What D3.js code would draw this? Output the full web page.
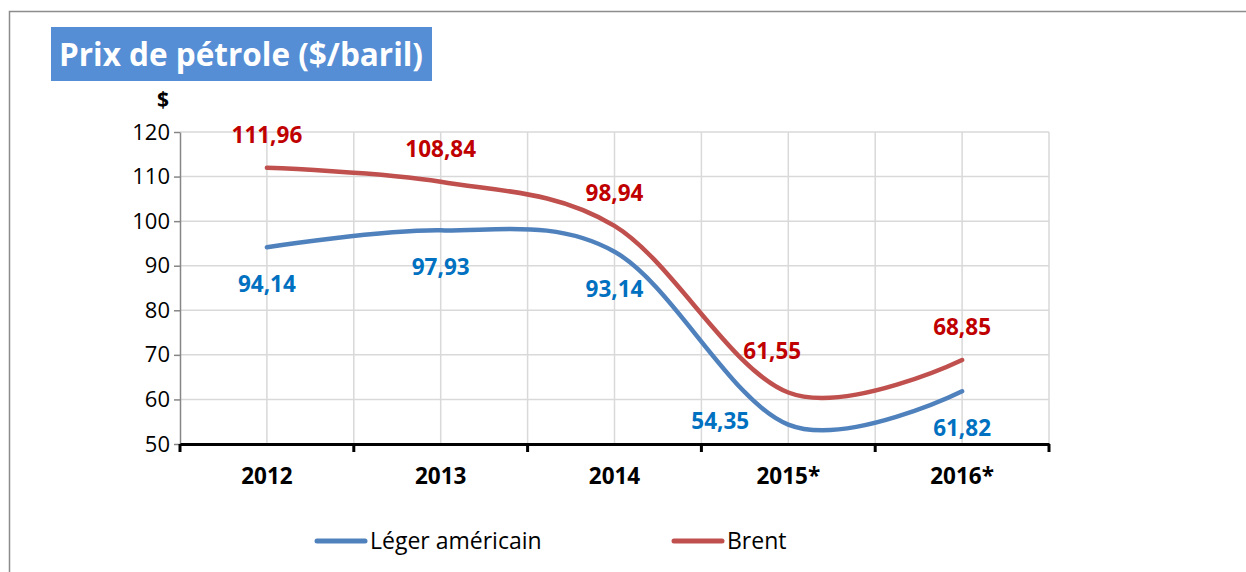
<!DOCTYPE html>
<html>
<head>
<meta charset="utf-8">
<script src="https://cdn.jsdelivr.net/npm/d3@7"></script>
<style>
  body { margin: 0; background: #fff; }
  svg { display: block; font-family: "Open Sans", Lato, sans-serif; }
</style>
</head>
<body>
<script>
const W = 1246, H = 572
const years = ["2012", "2013", "2014", "2015*", "2016*"]
const leger = [94.14, 97.93, 93.14, 54.35, 61.82]
const brent = [111.96, 108.84, 98.94, 61.55, 68.85]
const yTicks = [50, 60, 70, 80, 90, 100, 110, 120]
const seriesNames = ["Léger américain", "Brent"]

const plot = { left: 180, right: 1049, top: 132, bottom: 444 }
const FONT = "'Open Sans', sans-serif"

var svg = d3.select("body").append("svg")
    .attr("width", W)
    .attr("height", H)

// outer frame
svg.append("rect")
    .attr("x", 9.5).attr("y", 11.5)
    .attr("width", 1300).attr("height", 700)
    .attr("fill", "none").attr("stroke", "#8c8c8c").attr("stroke-width", 1.5)

// title box
svg.append("rect")
    .attr("x", 51).attr("y", 27).attr("width", 381).attr("height", 54)
    .attr("fill", "#558ed5")
svg.append("text")
    .attr("x", 241).attr("y", 66)
    .attr("text-anchor", "middle")
    .attr("fill", "#fff").attr("font-weight", "bold").attr("font-size", 31.5)
    .text("Prix de pétrole ($/baril)")

var x = d3.scaleBand().domain(years).range([plot.left, plot.right])
var y = d3.scaleLinear().domain([50, 120]).range([plot.bottom, plot.top])
var cx = function(d) { return x(d) + x.bandwidth() / 2 }

// gridlines
var grid = svg.append("g").attr("stroke", "#d9d9d9").attr("stroke-width", 1.5)
grid.selectAll(".h").data(yTicks.slice(1)).enter().append("line")
    .attr("x1", plot.left).attr("x2", plot.right)
    .attr("y1", d => y(d)).attr("y2", d => y(d))
var vx = []
years.forEach(function(d) { vx.push(cx(d)); vx.push(x(d) + x.bandwidth()) })
grid.selectAll(".v").data(vx).enter().append("line")
    .attr("x1", d => d).attr("x2", d => d)
    .attr("y1", plot.top).attr("y2", plot.bottom)

// y axis
var yAxis = svg.append("g")
    .attr("transform", "translate(" + plot.left + ",0)")
    .call(d3.axisLeft(y).tickValues(yTicks).tickSize(6).tickSizeOuter(0).tickPadding(4))
yAxis.select(".domain").attr("stroke", "#868686").attr("stroke-width", 1.5)
yAxis.selectAll(".tick line").attr("stroke", "#868686").attr("stroke-width", 1.5)
yAxis.selectAll("text").attr("font-size", 22).attr("fill", "#000")
    .attr("font-family", FONT)

svg.append("text")
    .attr("x", 163).attr("y", 107)
    .attr("text-anchor", "middle").attr("font-weight", "bold").attr("font-size", 21)
    .text("$")

// x axis
var xAxis = svg.append("g")
    .attr("transform", "translate(0," + plot.bottom + ")")
    .call(d3.axisBottom(x).tickSize(0).tickPadding(24).tickSizeOuter(0))
xAxis.select(".domain").attr("stroke", "#000").attr("stroke-width", 3)
xAxis.selectAll("text").attr("font-size", 22.5).attr("font-weight", "bold").attr("fill", "#000")
    .attr("font-family", FONT)
var bounds = [plot.left].concat(years.map(d => x(d) + x.bandwidth()))
svg.append("g").selectAll("line").data(bounds).enter().append("line")
    .attr("x1", d => d).attr("x2", d => d)
    .attr("y1", plot.bottom).attr("y2", plot.bottom + 8)
    .attr("stroke", "#000").attr("stroke-width", 3)

// lines
var line = d3.line()
    .x((d, i) => cx(years[i]))
    .y(d => y(d))
    .curve(d3.curveCardinal.tension(0))

var series = [
  { name: seriesNames[0], values: leger, color: "#4f81bd", label: "#0070c0", above: false },
  { name: seriesNames[1], values: brent, color: "#c0504d", label: "#c00000", above: true }
]

series.forEach(function(s) {
  svg.append("path")
      .attr("d", line(s.values))
      .attr("fill", "none")
      .attr("stroke", s.color)
      .attr("stroke-width", 4.5)
      .attr("stroke-linecap", "round")
})

// data labels
var fmt = v => d3.format(".2f")(v).replace(".", ",")
series.forEach(function(s) {
  svg.append("g").selectAll("text").data(s.values).enter().append("text")
      .attr("x", function(d, i) {
        var dx = 0
        if (i === 3) dx = s.above ? -16 : -68
        return cx(years[i]) + dx
      })
      .attr("y", function(d, i) {
        var dy = s.above ? -33 : 37
        if (i === 3) dy = s.above ? -42 : -4
        return y(d) + dy
      })
      .attr("dy", "0.36em")
      .attr("text-anchor", "middle")
      .attr("font-weight", "bold")
      .attr("font-size", 22.5)
      .attr("fill", s.label)
      .text(fmt)
})

// legend
var legendX = [315, 672]
series.forEach(function(s, i) {
  var g = svg.append("g").attr("transform", "translate(" + legendX[i] + ",541)")
  g.append("line").attr("x1", 2).attr("x2", 50)
      .attr("stroke", s.color).attr("stroke-width", 5).attr("stroke-linecap", "round")
  g.append("text").attr("x", 55).attr("dy", "0.36em")
      .attr("font-size", 23).attr("fill", "#000")
      .text(s.name)
})
</script>
</body>
</html>
